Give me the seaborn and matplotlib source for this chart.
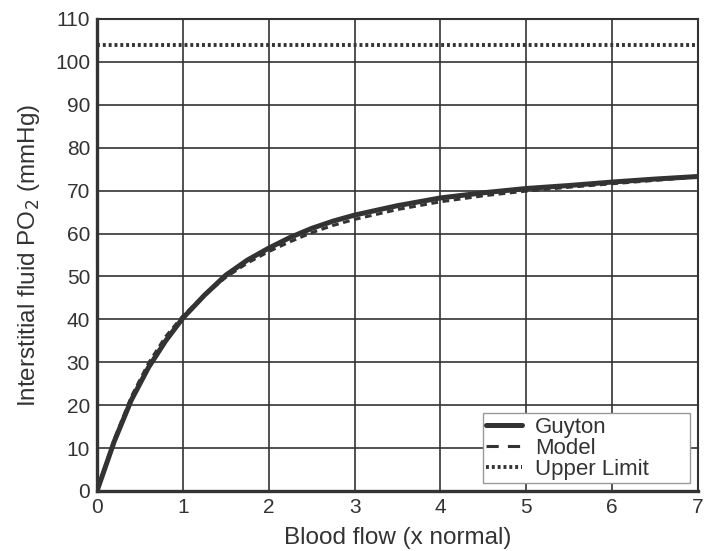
import numpy as np
import pandas as pd
import matplotlib
matplotlib.use("Agg")
import matplotlib.pyplot as plt
from matplotlib.lines import Line2D
import seaborn as sns

# Data
flow = [0, 0.2, 0.4, 0.6, 0.8, 1.0, 1.25, 1.5, 1.75, 2.0, 2.25, 2.5, 2.75, 3.0, 3.5, 4.0, 4.5, 5.0, 5.5, 6.0, 6.5, 7.0]
guyton = [0, 11.5, 21.2, 28.8, 35.0, 40.3, 45.6, 50.3, 53.8, 56.6, 59.1, 61.2, 62.9, 64.3, 66.5, 68.3, 69.5, 70.5, 71.2, 72.0, 72.7, 73.3]
model = [0, 12.0, 22.0, 29.8, 36.0, 40.8, 45.6, 49.8, 53.1, 55.8, 58.1, 60.2, 61.9, 63.3, 65.6, 67.4, 68.8, 69.9, 70.8, 71.6, 72.4, 73.2]
upper_x = [0, 7]
upper_limit = [104, 104]

xticks = [0, 1, 2, 3, 4, 5, 6, 7]
yticks = [0, 10, 20, 30, 40, 50, 60, 70, 80, 90, 100, 110]

df = pd.concat([
    pd.DataFrame({"flow": flow, "po2": guyton, "series": "Guyton"}),
    pd.DataFrame({"flow": flow, "po2": model, "series": "Model"}),
    pd.DataFrame({"flow": upper_x, "po2": upper_limit, "series": "Upper Limit"}),
])

sns.set_theme(style="white")
plt.rcParams['font.family'] = ['Liberation Sans', 'DejaVu Sans']

fig = plt.figure(figsize=(7.04, 5.51), dpi=100)
ax = fig.add_axes([97 / 704, 1 - 491 / 551, 601 / 704, 472 / 551])

col = "#333333"
styles = {"Guyton": dict(lw=3.6, ls="-"),
          "Model": dict(lw=2.2, ls=(0, (2.2, 1.5))),
          "Upper Limit": dict(lw=2.8, ls=(0, (0.75, 0.75)))}
for name in ["Upper Limit", "Guyton", "Model"]:
    sub = df[df["series"] == name]
    sns.lineplot(data=sub, x="flow", y="po2", ax=ax, color=col,
                 linewidth=styles[name]["lw"], linestyle=styles[name]["ls"],
                 estimator=None, sort=False, legend=False)

ax.set_xlim(0, 7)
ax.set_ylim(0, 110)
ax.set_xticks(xticks)
ax.set_yticks(yticks)
ax.grid(True, color="#333333", linewidth=1.2)
ax.tick_params(axis="both", labelsize=15, colors="#333333", length=0, pad=5)
for s in ax.spines.values():
    s.set_color("#333333")
    s.set_linewidth(1.5)
ax.spines["left"].set_linewidth(2.4)
ax.spines["bottom"].set_linewidth(2.4)

ax.set_xlabel("Blood flow (x normal)", fontsize=17.5, color="#333333", labelpad=7)
ax.set_ylabel("Interstitial fluid PO$_2$ (mmHg)", fontsize=17.5, color="#333333", labelpad=9)

leg_handles = [
    Line2D([], [], color=col, linewidth=3.6, linestyle="-"),
    Line2D([], [], color=col, linewidth=2.2, linestyle=(0, (4, 3))),
    Line2D([], [], color=col, linewidth=2.8, linestyle=(0, (0.75, 0.75))),
]
leg = ax.legend(leg_handles, ["Guyton", "Model", "Upper Limit"],
                loc="lower left", mode="expand",
                bbox_to_anchor=((483 - 97) / 601, 8 / 472, 207 / 601, 70 / 472),
                fontsize=16, frameon=True, fancybox=False, framealpha=1,
                edgecolor="#999999", handlelength=1.6, labelspacing=0.0,
                borderpad=0.15, handletextpad=0.6, borderaxespad=0)
leg.get_frame().set_linewidth(1.0)
for t in leg.get_texts():
    t.set_color("#333333")

fig.savefig("out.png", dpi=100)
